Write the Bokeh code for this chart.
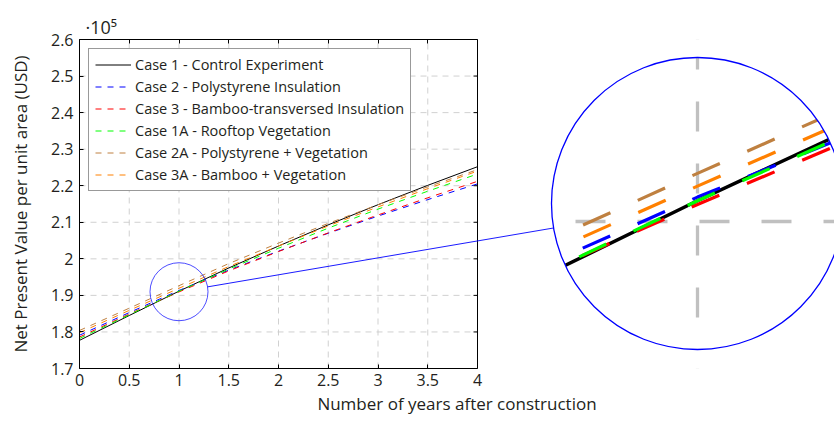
import math
from bokeh.plotting import figure
from bokeh.models import (Range1d, LinearAxis, FixedTicker, CustomJSTickFormatter,
                          Legend, LegendItem, Title)
from bokeh.embed import file_html
from bokeh.resources import INLINE

# ---------------- data ----------------
years = [0, 0.5, 1, 1.5, 2, 2.5, 3, 3.5, 4]
case1 = [177700, 184500, 191150, 197500, 203500, 209300, 214800, 220100, 225200]   # Control
case2 = [179100, 185300, 191350, 196900, 202100, 207000, 211700, 216200, 220500]   # Polystyrene
case3 = [178600, 184900, 190950, 196700, 202000, 207100, 212000, 216700, 221200]   # Bamboo-transversed
case1a = [178200, 184700, 191150, 197200, 202900, 208400, 213600, 218500, 223200]  # Rooftop vegetation
case2a = [180400, 186500, 192650, 198700, 204300, 209700, 214800, 219700, 224400]  # Polystyrene + veg
case3a = [179800, 185900, 191950, 197900, 203500, 209000, 214200, 219200, 224000]  # Bamboo + veg

labels = ["Case 1 - Control Experiment",
          "Case 2 - Polystyrene Insulation",
          "Case 3 - Bamboo-transversed Insulation",
          "Case 1A - Rooftop Vegetation",
          "Case 2A - Polystyrene + Vegetation",
          "Case 3A - Bamboo + Vegetation"]
x_ticks = [0, 0.5, 1, 1.5, 2, 2.5, 3, 3.5, 4]
y_ticks = [170000, 180000, 190000, 200000, 210000, 220000, 230000, 240000, 250000, 260000]

series = [case1, case2, case3, case1a, case2a, case3a]
colors = ["#000000", "#0000ff", "#ff0000", "#00ff00", "#bf8040", "#ff8000"]
dashes = ["solid", "6 6", "6 6", "6 6", "6 6", "6 6"]

# ---------------- layout constants ----------------
W, H = 834, 422
FL, FT = 79, 39            # frame left / top (px)
FW, FH = 755, 329          # frame width / height (px)
X_MIN, X_MAX = 0, 4
Y_MIN, Y_MAX = 170000, 260000
PXX = 398 / (X_MAX - X_MIN)          # px per year
PXY = FH / (Y_MAX - Y_MIN)           # px per USD
X_END = FW / PXX

SPY_X, SPY_Y = 1.0, 191000           # spied point
SPY_R = 29                           # px
MAG = 5
MAG_CX, MAG_CY = 697, 203            # screen centre of magnified view
MAG_R_PX = SPY_R * MAG + 1

FONT = "Open Sans"

def scr_to_main(sx, sy):
    return (sx - FL) / PXX + X_MIN, Y_MAX - (sy - FT) / PXY

p = figure(width=W, height=H, output_backend="svg", toolbar_location=None,
           x_range=Range1d(X_MIN, X_END), y_range=Range1d(Y_MIN, Y_MAX),
           min_border_left=FL, min_border_right=0, min_border_top=FT,
           min_border_bottom=H - FT - FH)
p.outline_line_color = None
p.grid.visible = False
p.background_fill_color = "white"

# zoom ranges for magnified view
zx0 = SPY_X - (MAG_CX - FL) / (PXX * MAG)
zx1 = zx0 + FW / (PXX * MAG)
zy1 = SPY_Y + (MAG_CY - FT) / (PXY * MAG)
zy0 = zy1 - FH / (PXY * MAG)
p.extra_x_ranges = {"zx": Range1d(zx0, zx1)}
p.extra_y_ranges = {"zy": Range1d(zy0, zy1)}

# ---- magnified content (drawn first, then masked) ----
p.vspan(x=[1.0], x_range_name="zx", y_range_name="zy",
        line_color="#c0c0c0", line_width=3.3, line_dash="30 32")
p.hspan(y=[190000], x_range_name="zx", y_range_name="zy",
        line_color="#c0c0c0", line_width=3.3, line_dash="30 32")
for s, c, d in zip(series, colors, dashes):
    p.line(years, s, x_range_name="zx", y_range_name="zy", line_color=c,
           line_width=3.5 if d == "solid" else 3.2,
           line_dash="solid" if d == "solid" else "30 30")

mcx, mcy = scr_to_main(MAG_CX, MAG_CY)
p.annulus(x=[mcx], y=[mcy], inner_radius=MAG_R_PX, outer_radius=1000,
          inner_radius_units="screen", outer_radius_units="screen",
          fill_color="white", line_color=None)

# ---- main grid ----
gx = [t for t in x_ticks if X_MIN < t < X_MAX]
gy = [t for t in y_ticks if Y_MIN < t < Y_MAX]
p.segment(x0=gx, y0=[Y_MIN] * len(gx), x1=gx, y1=[Y_MAX] * len(gx),
          line_color="#cccccc", line_width=0.9, line_dash="6 5")
p.segment(x0=[X_MIN] * len(gy), y0=gy, x1=[X_MAX] * len(gy), y1=gy,
          line_color="#cccccc", line_width=0.9, line_dash="6 5")

# ---- main lines ----
items = []
for s, c, d, lab in zip(series, colors, dashes, labels):
    r = p.line(years, s, line_color=c, line_width=1.0, line_dash=d)
    items.append(LegendItem(label=lab, renderers=[r]))

# right border + inward ticks
p.segment(x0=[X_MAX], y0=[Y_MIN], x1=[X_MAX], y1=[Y_MAX], line_color="black", line_width=1)
p.ray(x=[X_MAX] * len(y_ticks), y=y_ticks, length=4, length_units="screen",
      angle=math.pi, line_color="black", line_width=1)

# ---- spy circles & connector ----
p.circle(x=[SPY_X], y=[SPY_Y], radius=SPY_R, radius_units="screen",
         fill_color=None, line_color="#0000ff", line_width=0.7)
p.circle(x=[mcx], y=[mcy], radius=MAG_R_PX, radius_units="screen",
         fill_color=None, line_color="#0000ff", line_width=1.3)
s1x = FL + (SPY_X - X_MIN) * PXX
s1y = FT + (Y_MAX - SPY_Y) * PXY
dx, dy = MAG_CX - s1x, MAG_CY - s1y
L = math.hypot(dx, dy)
ux, uy = dx / L, dy / L
a = scr_to_main(s1x + SPY_R * ux, s1y + SPY_R * uy)
b = scr_to_main(MAG_CX - MAG_R_PX * ux, MAG_CY - MAG_R_PX * uy)
p.segment(x0=[a[0]], y0=[a[1]], x1=[b[0]], y1=[b[1]], line_color="#0000ff", line_width=0.9)

# ---- axes ----
xa = p.xaxis[0]
ya = p.yaxis[0]
xa.ticker = FixedTicker(ticks=x_ticks)
xa.bounds = (X_MIN, X_MAX)
xa.formatter = CustomJSTickFormatter(code="return String(tick);")
ya.ticker = FixedTicker(ticks=y_ticks)
ya.formatter = CustomJSTickFormatter(code="return String(Math.round(tick/1e4)/10);")
top = LinearAxis(ticker=FixedTicker(ticks=x_ticks), bounds=(X_MIN, X_MAX),
                 major_label_text_alpha=0, major_label_text_font_size="1px",
                 major_label_standoff=0)
p.add_layout(top, "above")
for ax in (xa, ya, top):
    ax.major_tick_in = 4
    ax.major_tick_out = 0
    ax.minor_tick_line_color = None
    ax.axis_line_color = "black"
    ax.major_tick_line_color = "black"
    ax.major_label_text_font = FONT
    ax.axis_label_text_font = FONT
    ax.axis_label_text_font_style = "normal"
for ax in (xa, ya):
    ax.major_label_text_font_size = "16px"
    ax.major_label_text_color = "#231f20"
    ax.axis_label_text_font_size = "17px"
    ax.axis_label_text_color = "#231f20"
xa.axis_label = "Number of years after construction"
ya.axis_label = "Net Present Value per unit area (USD)"
xa.major_label_standoff = 5
xa.axis_label_standoff = 3
ya.major_label_standoff = 6
ya.axis_label_standoff = 16

# ---- legend ----
leg = Legend(items=items, location="top_left", margin=9, padding=6, spacing=3,
             glyph_width=36, glyph_height=17, label_height=17, label_standoff=4,
             label_text_font=FONT, label_text_font_size="14.5px", label_text_color="#231f20",
             label_text_line_height=1.0,
             border_line_color="#333333", border_line_width=1,
             background_fill_color="white", background_fill_alpha=1.0)
p.add_layout(leg)

# ---- multiplier ----
p.add_layout(Title(text="·10⁵", align="left", offset=6, standoff=2,
                   text_font=FONT, text_font_size="18px", text_font_style="normal",
                   text_color="#231f20"), "above")

open("out.html", "w").write(file_html(p, INLINE))
